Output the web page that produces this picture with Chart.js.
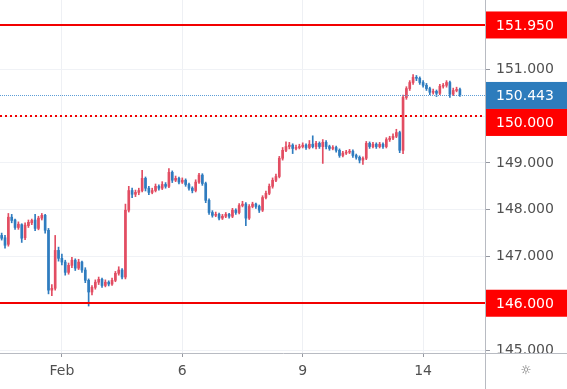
<!DOCTYPE html>
<html>
<head>
<meta charset="utf-8">
<script src="https://cdn.jsdelivr.net/npm/chart.js@4"></script>
<style>
  html, body { margin: 0; padding: 0; background: #ffffff; }
  #wrap { width: 567px; height: 389px; }
</style>
</head>
<body>
<div id="wrap"><canvas id="priceChart"></canvas></div>
<script>
// 2-hour bars, Jan 30 12:00 -> Feb 14 22:00 (weekends skipped)
const opens = [
  147.45, 147.40, 147.26, 147.84, 147.78, 147.62, 147.68, 147.40, 147.66, 147.72,
  147.78, 147.60, 147.82, 147.88, 147.56, 146.28, 146.32, 147.13, 146.96, 146.88,
  146.66, 146.81, 146.92, 146.75, 146.88, 146.71, 146.49, 146.24, 146.34, 146.45,
  146.51, 146.38, 146.45, 146.41, 146.49, 146.64, 146.71, 146.56, 147.99, 148.41,
  148.33, 148.37, 148.41, 148.67, 148.46, 148.37, 148.41, 148.50, 148.46, 148.54,
  148.50, 148.80, 148.63, 148.67, 148.59, 148.63, 148.54, 148.46, 148.41, 148.59,
  148.74, 148.56, 148.20, 147.94, 147.88, 147.90, 147.82, 147.86, 147.90, 147.86,
  147.99, 147.94, 148.09, 148.12, 147.82, 148.07, 148.12, 148.07, 147.99, 148.26,
  148.35, 148.50, 148.63, 148.71, 149.10, 149.27, 149.35, 149.38, 149.31, 149.33,
  149.35, 149.38, 149.33, 149.40, 149.35, 149.42, 149.35, 149.44, 149.35, 149.31,
  149.33, 149.27, 149.16, 149.21, 149.23, 149.25, 149.16, 149.12, 149.06, 149.10,
  149.42, 149.35, 149.40, 149.35, 149.40, 149.35, 149.50, 149.53, 149.57, 149.65,
  149.27, 150.40, 150.59, 150.72, 150.83, 150.81, 150.72, 150.66, 150.59, 150.51,
  150.53, 150.49, 150.64, 150.66, 150.72, 150.47, 150.55, 150.57
];
const highs = [
  147.50, 147.45, 147.92, 147.90, 147.80, 147.74, 147.70, 147.72, 147.78, 147.80,
  147.90, 147.86, 147.92, 147.90, 147.60, 146.40, 147.45, 147.20, 147.05, 146.92,
  146.86, 146.98, 146.95, 146.94, 146.90, 146.76, 146.52, 146.38, 146.50, 146.56,
  146.54, 146.50, 146.48, 146.54, 146.68, 146.78, 146.74, 148.12, 148.50, 148.46,
  148.42, 148.46, 148.84, 148.70, 148.50, 148.46, 148.55, 148.53, 148.60, 148.58,
  148.88, 148.83, 148.72, 148.70, 148.68, 148.66, 148.57, 148.49, 148.64, 148.78,
  148.77, 148.59, 148.23, 147.98, 147.95, 147.93, 147.90, 147.94, 147.92, 148.03,
  148.02, 148.13, 148.18, 148.15, 148.11, 148.16, 148.14, 148.10, 148.30, 148.40,
  148.55, 148.68, 148.76, 149.14, 149.33, 149.45, 149.44, 149.41, 149.38, 149.40,
  149.43, 149.41, 149.48, 149.58, 149.46, 149.45, 149.50, 149.48, 149.38, 149.37,
  149.36, 149.30, 149.25, 149.27, 149.29, 149.28, 149.19, 149.15, 149.13, 149.46,
  149.45, 149.44, 149.43, 149.44, 149.43, 149.54, 149.57, 149.62, 149.72, 149.68,
  150.45, 150.63, 150.76, 150.89, 150.87, 150.84, 150.76, 150.70, 150.62, 150.58,
  150.56, 150.68, 150.70, 150.76, 150.75, 150.60, 150.62, 150.60
];
const lows = [
  147.35, 147.18, 147.22, 147.72, 147.58, 147.58, 147.30, 147.36, 147.62, 147.68,
  147.55, 147.57, 147.78, 147.50, 146.20, 146.16, 146.28, 146.90, 146.82, 146.60,
  146.62, 146.76, 146.70, 146.72, 146.66, 146.44, 145.94, 146.18, 146.30, 146.40,
  146.34, 146.35, 146.37, 146.38, 146.46, 146.60, 146.52, 146.52, 147.95, 148.26,
  148.28, 148.32, 148.38, 148.40, 148.32, 148.34, 148.38, 148.42, 148.43, 148.46,
  148.47, 148.58, 148.60, 148.55, 148.56, 148.50, 148.42, 148.36, 148.38, 148.56,
  148.52, 148.15, 147.90, 147.84, 147.85, 147.78, 147.79, 147.83, 147.82, 147.83,
  147.90, 147.91, 148.06, 147.66, 147.79, 148.04, 148.03, 147.94, 147.96, 148.23,
  148.32, 148.46, 148.60, 148.68, 149.06, 149.24, 149.30, 149.20, 149.28, 149.30,
  149.32, 149.29, 149.30, 149.32, 149.30, 149.31, 148.99, 149.30, 149.27, 149.28,
  149.23, 149.12, 149.13, 149.18, 149.20, 149.12, 149.08, 149.00, 148.97, 149.07,
  149.31, 149.32, 149.31, 149.32, 149.31, 149.32, 149.46, 149.50, 149.54, 149.22,
  149.20, 150.36, 150.55, 150.68, 150.76, 150.68, 150.62, 150.55, 150.46, 150.47,
  150.42, 150.46, 150.60, 150.62, 150.40, 150.44, 150.52, 150.42
];
const closes = [
  147.39, 147.24, 147.84, 147.77, 147.62, 147.69, 147.39, 147.67, 147.73, 147.77,
  147.60, 147.82, 147.88, 147.56, 146.28, 146.32, 147.13, 146.96, 146.88, 146.66,
  146.81, 146.92, 146.75, 146.88, 146.71, 146.49, 146.24, 146.34, 146.45, 146.51,
  146.38, 146.45, 146.41, 146.49, 146.64, 146.71, 146.56, 147.99, 148.41, 148.33,
  148.37, 148.41, 148.67, 148.46, 148.37, 148.41, 148.50, 148.46, 148.54, 148.50,
  148.80, 148.63, 148.67, 148.59, 148.63, 148.54, 148.46, 148.41, 148.59, 148.74,
  148.56, 148.20, 147.94, 147.88, 147.90, 147.82, 147.86, 147.90, 147.86, 147.99,
  147.94, 148.09, 148.12, 147.82, 148.07, 148.12, 148.07, 147.99, 148.26, 148.35,
  148.50, 148.63, 148.71, 149.10, 149.27, 149.35, 149.38, 149.31, 149.33, 149.35,
  149.38, 149.33, 149.40, 149.35, 149.42, 149.35, 149.44, 149.35, 149.31, 149.33,
  149.27, 149.16, 149.21, 149.23, 149.25, 149.16, 149.12, 149.06, 149.10, 149.42,
  149.35, 149.40, 149.35, 149.40, 149.35, 149.50, 149.53, 149.57, 149.65, 149.27,
  150.40, 150.59, 150.72, 150.83, 150.81, 150.72, 150.66, 150.59, 150.51, 150.53,
  150.49, 150.64, 150.66, 150.72, 150.47, 150.55, 150.57, 150.443
];

const tradingDays = ['Jan 30', 'Jan 31', 'Feb 1', 'Feb 2', 'Feb 5', 'Feb 6', 'Feb 7',
                     'Feb 8', 'Feb 9', 'Feb 12', 'Feb 13', 'Feb 14', 'Feb 15'];
const dayAxisLabels = ['', '', 'Feb', '', '', '6', '', '', '9', '', '', '14', ''];
const yTickValues = [145, 146, 147, 148, 149, 150, 151];

const levelValues = [151.95, 150.0, 146.0];
const levelDotted = [false, true, false];
const lastPrice = 150.443;

const upColor = '#e24d62';
const downColor = '#2f7cbf';
const levelColor = '#f20000';
const tagRed = '#ff0000';
const lastColor = '#2d7cbc';
const lastLineColor = '#5d9dd6';
const textColor = '#505050';
const axisFont = { family: 'DejaVu Sans', size: 14 };

// category slots: 2h each, first bar at Jan 30 12:00, some empty room on the right
const slotLabels = [];
const slotAxisText = [];
tradingDays.forEach((day, d) => {
    for (let h = 0; h < 24; h += 2) {
        if (d === 0 && h < 12) continue;
        slotLabels.push(day + ' ' + String(h).padStart(2, '0') + ':00');
        slotAxisText.push(h === 0 ? dayAxisLabels[d] : '');
    }
});
slotLabels.length = 145;
slotAxisText.length = 145;

const candleColors = closes.map((c, i) => c >= opens[i] ? upColor : downColor);

// horizontal levels + price tags on the right axis
const levelPlugin = {
    id: 'levels',
    afterDatasetsDraw(chart) {
        const { ctx, chartArea, scales: { y } } = chart;
        ctx.save();
        ctx.beginPath();
        ctx.rect(chartArea.left, chartArea.top, chartArea.width, chartArea.height);
        ctx.clip();

        // last price dotted line
        let py = Math.round(y.getPixelForValue(lastPrice)) + 0.5;
        ctx.strokeStyle = lastLineColor;
        ctx.lineWidth = 1;
        ctx.setLineDash([1, 1]);
        ctx.beginPath();
        ctx.moveTo(chartArea.left, py);
        ctx.lineTo(chartArea.right, py);
        ctx.stroke();

        levelValues.forEach((v, i) => {
            const ly = Math.round(y.getPixelForValue(v));
            ctx.strokeStyle = levelColor;
            ctx.lineWidth = 2;
            ctx.setLineDash(levelDotted[i] ? [2, 3] : []);
            ctx.beginPath();
            ctx.moveTo(chartArea.left, ly);
            ctx.lineTo(chartArea.right, ly);
            ctx.stroke();
        });
        ctx.restore();
    },
    afterDraw(chart) {
        const { ctx, chartArea, scales: { y }, width, height } = chart;
        ctx.save();

        // hide whatever spills into the corner below the price axis
        ctx.fillStyle = '#ffffff';
        ctx.fillRect(chartArea.right + 1, chartArea.bottom, width - chartArea.right, height - chartArea.bottom);

        // axis separators
        ctx.strokeStyle = '#b8bbc2';
        ctx.lineWidth = 1;
        ctx.beginPath();
        ctx.moveTo(chartArea.right + 0.5, 0);
        ctx.lineTo(chartArea.right + 0.5, height);
        ctx.moveTo(0, chartArea.bottom + 0.5);
        ctx.lineTo(width, chartArea.bottom + 0.5);
        ctx.stroke();

        // settings glyph
        ctx.fillStyle = '#666666';
        ctx.font = '12px "DejaVu Sans"';
        ctx.textAlign = 'center';
        ctx.textBaseline = 'middle';
        ctx.fillText('\u263C', (chartArea.right + width) / 2, (chartArea.bottom + height) / 2);

        // price tags, pushed apart when they overlap
        const tags = levelValues.map(v => ({ v, color: tagRed }));
        tags.push({ v: lastPrice, color: lastColor });
        tags.forEach(t => { t.y = y.getPixelForValue(t.v); });
        tags.sort((a, b) => a.y - b.y);
        const boxH = 27;
        let prevBottom = -Infinity;
        tags.forEach(t => {
            let top = t.y - boxH / 2;
            if (top < prevBottom) top = prevBottom;
            prevBottom = top + boxH;
            ctx.fillStyle = t.color;
            ctx.fillRect(chartArea.right + 1, top, width - chartArea.right - 1, boxH);
            ctx.fillStyle = '#ffffff';
            ctx.font = '14px "DejaVu Sans"';
            ctx.textAlign = 'left';
            ctx.textBaseline = 'middle';
            ctx.fillText(t.v.toFixed(3), chartArea.right + 11, top + boxH / 2 + 1);
        });
        ctx.restore();
    }
};

const chartCtx = document.getElementById('priceChart').getContext('2d');
window.priceChart = new Chart(chartCtx, {
    type: 'bar',
    data: {
        labels: slotLabels,
        datasets: [{
            label: 'wick',
            data: lows.map((l, i) => [l, highs[i]]),
            backgroundColor: candleColors,
            barThickness: 1,
            grouped: false,
            order: 2
        }, {
            label: 'body',
            data: opens.map((o, i) => [o, closes[i]]),
            backgroundColor: candleColors,
            barThickness: 2,
            minBarLength: 1,
            grouped: false,
            order: 1
        }]
    },
    options: {
        responsive: true,
        maintainAspectRatio: false,
        animation: false,
        layout: { padding: 0 },
        plugins: {
            legend: { display: false },
            tooltip: { enabled: false }
        },
        scales: {
            x: {
                offset: true,
                grid: {
                    offset: false,
                    color: c => (slotAxisText[c.index] ? '#eef0f4' : 'rgba(0,0,0,0)'),
                    tickColor: c => (slotAxisText[c.index] ? '#9598a1' : 'rgba(0,0,0,0)'),
                    tickLength: 4
                },
                border: { display: false },
                ticks: {
                    autoSkip: false,
                    maxRotation: 0,
                    color: textColor,
                    font: axisFont,
                    padding: 6,
                    callback: (v, i) => slotAxisText[i]
                },
                afterFit: s => { s.height = 36; s.paddingLeft = 0; s.paddingRight = 0; }
            },
            y: {
                position: 'right',
                min: 144.936,
                max: 152.484,
                afterBuildTicks: s => { s.ticks = yTickValues.map(v => ({ value: v })); },
                grid: {
                    color: '#f0f2f6',
                    tickColor: '#9598a1',
                    tickLength: 5
                },
                border: { display: false },
                ticks: {
                    color: textColor,
                    font: axisFont,
                    padding: 6,
                    callback: v => v.toFixed(3)
                },
                afterFit: s => { s.width = 82; s.paddingTop = 0; s.paddingBottom = 0; }
            }
        }
    },
    plugins: [levelPlugin]
});
</script>
</body>
</html>
